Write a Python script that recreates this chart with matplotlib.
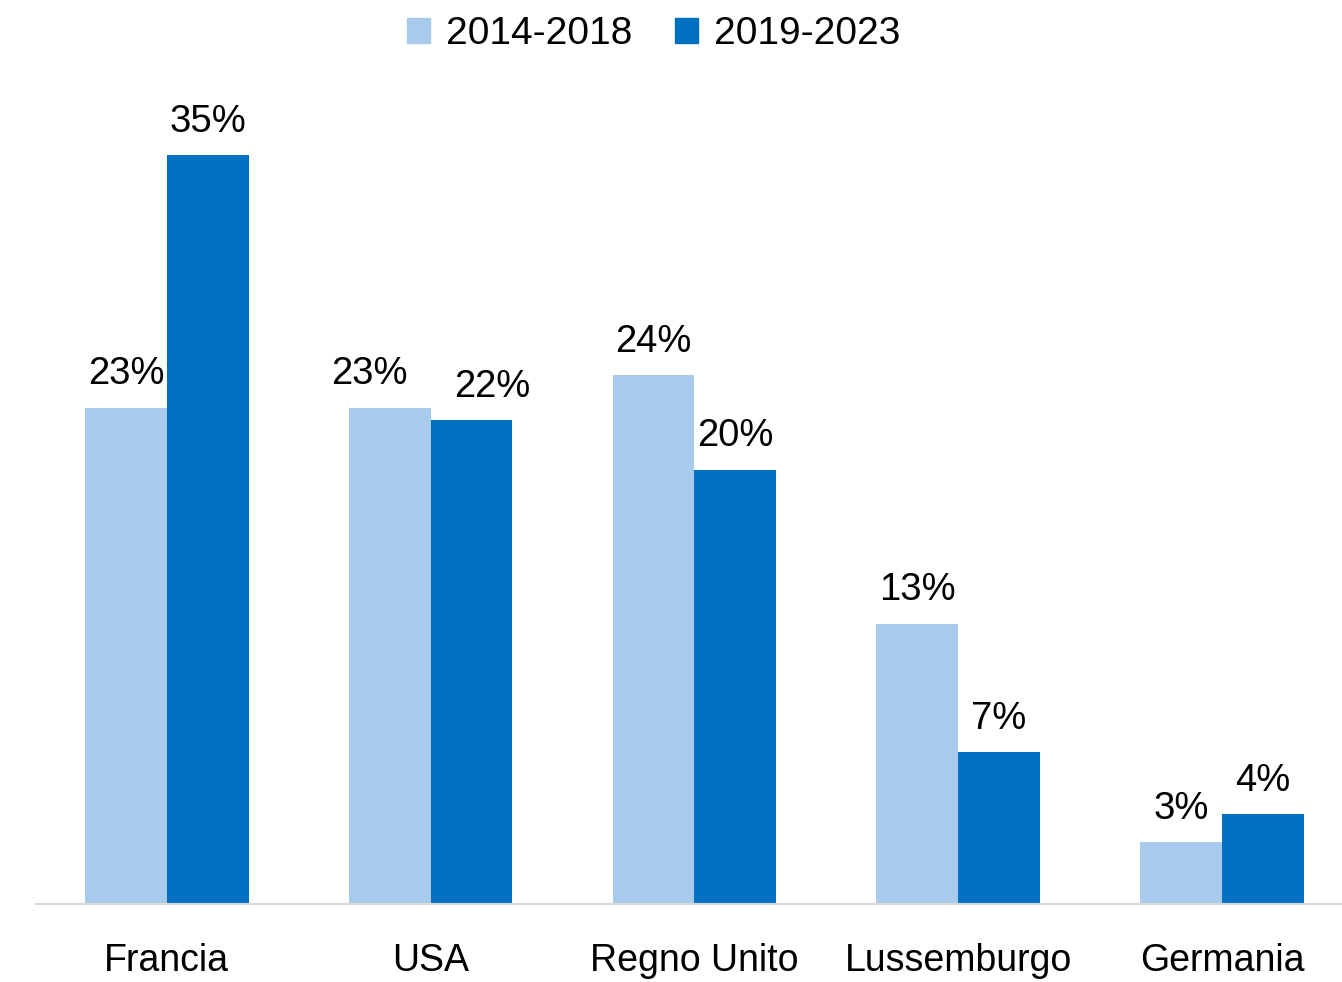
import numpy as np
import matplotlib
matplotlib.use("Agg")
import matplotlib.pyplot as plt
from matplotlib.patches import Patch

plt.rcParams['font.family'] = ['Liberation Sans', 'DejaVu Sans']

paesi = ['Francia', 'USA', 'Regno Unito', 'Lussemburgo', 'Germania']
serie = ['2014-2018', '2019-2023']
valori_2014 = [23.2, 23.2, 24.7, 13.1, 2.9]
valori_2019 = [35.0, 22.6, 20.3, 7.1, 4.2]
etichette_2014 = ['23%', '23%', '24%', '13%', '3%']
etichette_2019 = ['35%', '22%', '20%', '7%', '4%']

col_chiaro = '#A9CBEB'
col_scuro = '#0070C0'

fig = plt.figure(figsize=(13.42, 9.82), dpi=100)
ax = fig.add_axes([36 / 1342, (982 - 904) / 982, 1 - 36 / 1342, (904 - 60) / 982])

x = np.arange(len(paesi))
w = 0.31
b1 = ax.bar(x - w / 2, valori_2014, w, color=col_chiaro, label=serie[0])
b2 = ax.bar(x + w / 2, valori_2019, w, color=col_scuro, label=serie[1])

# etichette USA spostate per non sovrapporsi
sposta = {(0, 1): -15, (1, 1): 15}
for k, (barre, etich) in enumerate([(b1, etichette_2014), (b2, etichette_2019)]):
    for i, (r, t) in enumerate(zip(barre, etich)):
        dx = sposta.get((k, i), 0)
        ax.annotate(t, (r.get_x() + r.get_width() / 2, r.get_height()),
                    xytext=(dx, 11), textcoords='offset points',
                    ha='center', va='bottom', fontsize=27.5)

ax.set_xlim(-0.496, 4.455)
ax.set_ylim(0, (904 - 60) / 21.4)
ax.set_xticks(x)
ax.set_xticklabels(paesi, fontsize=27)
ax.tick_params(axis='x', length=0, pad=28)
ax.set_yticks([])
for s in ['top', 'right', 'left']:
    ax.spines[s].set_visible(False)
ax.spines['bottom'].set_color('#d9d9d9')
ax.spines['bottom'].set_linewidth(1.5)

handles = [Patch(color=col_chiaro), Patch(color=col_scuro)]
fig.legend(handles, serie, loc='upper center', bbox_to_anchor=(0.487, 1.019),
           ncol=2, frameon=False, fontsize=28, handlelength=0.6, handleheight=0.6,
           handletextpad=0.4, columnspacing=1.1)

fig.savefig('out.png', dpi=100)
